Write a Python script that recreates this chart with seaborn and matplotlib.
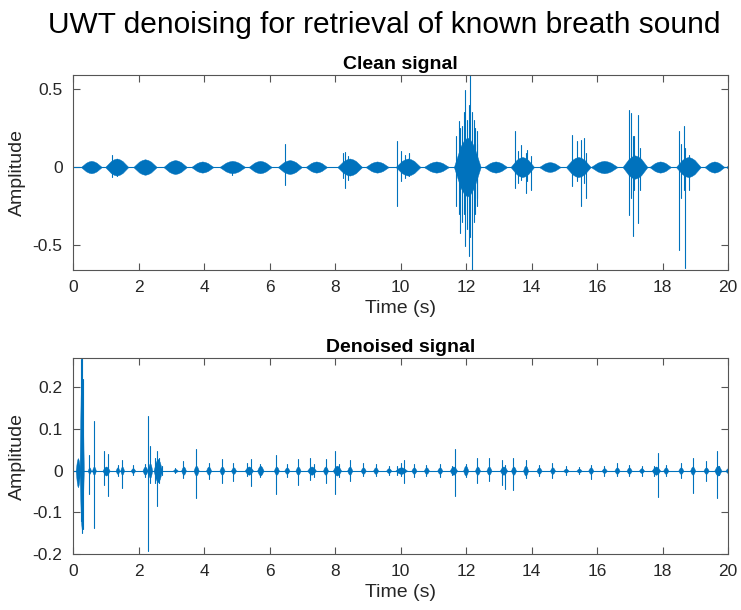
import numpy as np
import pandas as pd
import matplotlib
matplotlib.use("Agg")
import matplotlib.pyplot as plt
import seaborn as sns

# ---------------- data ----------------
# Clean signal: breath bursts (start s, end s, upper envelope, lower envelope)
clean_burst_start = [0.24, 0.98, 1.84, 2.76, 3.61, 4.47, 5.36, 6.25, 7.10, 8.07, 8.93, 9.85,
                     10.71, 11.63, 12.55, 13.36, 14.23, 15.05, 15.81, 16.78, 17.60, 18.41, 19.28, 19.95]
clean_burst_end = [0.88, 1.69, 2.56, 3.48, 4.29, 5.26, 6.07, 6.99, 7.76, 8.83, 9.64, 10.61,
                   11.48, 12.45, 13.26, 14.08, 14.89, 15.81, 16.63, 17.54, 18.26, 19.17, 19.89, 20.3]
clean_burst_hi = [0.04, 0.055, 0.05, 0.045, 0.036, 0.04, 0.04, 0.045, 0.036, 0.055, 0.036, 0.055,
                  0.036, 0.19, 0.036, 0.065, 0.032, 0.065, 0.04, 0.075, 0.036, 0.065, 0.036, 0.03]
clean_burst_lo = [0.04, 0.055, 0.05, 0.045, 0.036, 0.04, 0.04, 0.045, 0.036, 0.055, 0.036, 0.055,
                  0.036, 0.19, 0.036, 0.065, 0.032, 0.065, 0.04, 0.075, 0.036, 0.065, 0.036, 0.03]
# Clean signal: crackle spikes (time s, peak, trough magnitude)
clean_spike_t = [1.20, 1.35, 4.85, 6.46, 8.25, 8.30, 8.40, 9.90, 10.02, 10.15, 10.25,
                 11.70, 11.78, 11.83, 11.88, 11.93, 11.98, 12.03, 12.08, 12.13, 12.18, 12.23, 12.28,
                 12.33, 12.35, 13.50, 13.60, 13.67, 13.82, 13.87, 13.98,
                 15.25, 15.40, 15.50, 15.61, 15.66,
                 16.99, 17.04, 17.09, 17.14, 17.24, 17.30,
                 18.51, 18.58, 18.66, 18.69, 18.82]
clean_spike_hi = [0.08, 0.05, 0.02, 0.15, 0.09, 0.098, 0.07, 0.164, 0.10, 0.08, 0.09,
                  0.20, 0.293, 0.25, 0.26, 0.35, 0.496, 0.30, 0.40, 0.60, 0.35, 0.30, 0.25,
                  0.229, 0.15, 0.229, 0.10, 0.143, 0.09, 0.111, 0.07,
                  0.207, 0.165, 0.175, 0.186, 0.09,
                  0.368, 0.346, 0.20, 0.197, 0.336, 0.12,
                  0.229, 0.15, 0.261, 0.12, 0.08]
clean_spike_lo = [0.065, 0.06, 0.05, 0.113, 0.07, 0.135, 0.08, 0.25, 0.09, 0.07, 0.06,
                  0.25, 0.30, 0.423, 0.35, 0.30, 0.509, 0.40, 0.573, 0.45, 0.67, 0.35, 0.30,
                  0.20, 0.252, 0.135, 0.10, 0.08, 0.167, 0.09, 0.145,
                  0.124, 0.09, 0.252, 0.10, 0.199,
                  0.306, 0.20, 0.444, 0.15, 0.359, 0.15,
                  0.53, 0.20, 0.15, 0.648, 0.145]

# Denoised signal: small blobs (start, end, upper, lower)
den_burst_start = [0.08, 0.20, 0.45, 0.58, 0.90, 1.30, 1.44, 1.76, 2.12, 2.28, 2.46, 3.05, 3.30, 3.68,
                   4.06, 4.47, 4.82, 5.24, 5.62, 6.13, 6.45, 6.79, 7.15, 7.63, 7.93, 8.37, 8.78, 9.16,
                   9.56, 9.84, 10.33, 10.71, 11.12, 11.50, 11.91, 12.27, 12.62, 13.03, 13.37, 13.74,
                   14.15, 14.56, 14.97, 15.37, 15.73, 16.14, 16.53, 16.90, 17.28, 17.67, 18.02, 18.48,
                   18.84, 19.25, 19.58, 19.92]
den_burst_end = [0.22, 0.33, 0.55, 0.70, 1.12, 1.42, 1.56, 1.90, 2.28, 2.42, 2.72, 3.20, 3.45, 3.84,
                 4.22, 4.63, 4.98, 5.50, 5.82, 6.29, 6.61, 6.95, 7.42, 7.79, 8.19, 8.53, 8.94, 9.32,
                 9.72, 10.20, 10.49, 10.87, 11.28, 11.73, 12.07, 12.43, 12.78, 13.26, 13.53, 13.90,
                 14.31, 14.72, 15.13, 15.53, 15.89, 16.30, 16.69, 17.06, 17.44, 17.93, 18.18, 18.64,
                 19.00, 19.41, 19.80, 20.08]
den_burst_hi = [0.03, 0.25, 0.008, 0.01, 0.01, 0.008, 0.01, 0.006, 0.01, 0.018, 0.028, 0.004, 0.01, 0.012,
                0.01, 0.01, 0.008, 0.01, 0.012, 0.01, 0.008, 0.01, 0.01, 0.01, 0.012, 0.01, 0.008, 0.008,
                0.006, 0.008, 0.008, 0.008, 0.008, 0.01, 0.012, 0.01, 0.01, 0.01, 0.01, 0.012,
                0.008, 0.008, 0.005, 0.005, 0.008, 0.006, 0.008, 0.008, 0.006, 0.01, 0.008, 0.008,
                0.01, 0.008, 0.012, 0.006]
den_burst_lo = [0.04, 0.14, 0.008, 0.01, 0.012, 0.008, 0.01, 0.006, 0.01, 0.018, 0.028, 0.004, 0.01, 0.012,
                0.01, 0.01, 0.008, 0.01, 0.012, 0.01, 0.008, 0.01, 0.01, 0.01, 0.012, 0.01, 0.008, 0.008,
                0.006, 0.008, 0.008, 0.008, 0.008, 0.01, 0.012, 0.01, 0.01, 0.01, 0.01, 0.012,
                0.008, 0.008, 0.005, 0.005, 0.008, 0.006, 0.008, 0.008, 0.006, 0.01, 0.008, 0.008,
                0.01, 0.008, 0.012, 0.006]
# Denoised signal: spikes (time, peak, trough magnitude)
den_spike_t = [0.24, 0.27, 0.30, 0.50, 0.64, 0.96, 1.08, 1.36, 1.49, 1.82, 2.20, 2.30, 2.35, 2.50, 2.56,
               2.62, 2.71, 3.12, 3.37, 3.76, 4.14, 4.55, 4.90, 5.31, 5.43, 5.72, 6.21, 6.53, 6.87,
               7.23, 7.35, 7.71, 8.01, 8.11, 8.45, 8.86, 9.24, 9.64, 9.90, 10.00, 10.12, 10.41,
               10.79, 11.20, 11.56, 11.65, 11.99, 12.35, 12.70, 13.11, 13.18, 13.45, 13.82, 14.23,
               14.64, 15.05, 15.45, 15.81, 16.22, 16.61, 16.98, 17.36, 17.75, 17.85, 18.10, 18.56,
               18.92, 19.33, 19.66, 19.73, 20.0]
den_spike_hi = [0.267, 0.27, 0.22, 0.038, 0.12, 0.046, 0.039, 0.014, 0.026, 0.014, 0.015, 0.130, 0.058,
                0.03, 0.046, 0.03, 0.01, 0.006, 0.022, 0.051, 0.018, 0.028, 0.018, 0.018, 0.028, 0.016,
                0.038, 0.015, 0.028, 0.03, 0.015, 0.027, 0.046, 0.015, 0.026, 0.018, 0.016, 0.01, 0.01,
                0.018, 0.026, 0.015, 0.014, 0.015, 0.01, 0.052, 0.016, 0.03, 0.03, 0.026, 0.014, 0.03,
                0.026, 0.014, 0.018, 0.01, 0.008, 0.014, 0.012, 0.018, 0.014, 0.012, 0.012, 0.043,
                0.014, 0.018, 0.03, 0.022, 0.046, 0.01, 0.01]
den_spike_lo = [0.12, 0.15, 0.14, 0.056, 0.138, 0.034, 0.061, 0.014, 0.042, 0.01, 0.015, 0.194, 0.03,
                0.03, 0.085, 0.03, 0.01, 0.006, 0.018, 0.065, 0.02, 0.03, 0.026, 0.014, 0.038, 0.016,
                0.057, 0.015, 0.034, 0.022, 0.015, 0.03, 0.056, 0.015, 0.026, 0.014, 0.014, 0.01, 0.01,
                0.013, 0.03, 0.015, 0.014, 0.015, 0.01, 0.06, 0.016, 0.03, 0.026, 0.034, 0.045, 0.046,
                0.018, 0.014, 0.018, 0.01, 0.008, 0.021, 0.012, 0.013, 0.014, 0.012, 0.012, 0.064,
                0.014, 0.018, 0.053, 0.026, 0.066, 0.01, 0.01]

x_ticks = [0, 2, 4, 6, 8, 10, 12, 14, 16, 18, 20]
clean_y_ticks = [-0.5, 0, 0.5]
den_y_ticks = [-0.2, -0.1, 0, 0.1, 0.2]

# ---------------- style ----------------
sns.set_theme(style="white")
plt.rcParams["font.family"] = ["Liberation Sans", "DejaVu Sans"]
plt.rcParams["axes.unicode_minus"] = False

LINE = "#0072BD"
AX = "#262626"
PROFILE = [0.0, 0.35, 0.7, 0.9, 1.0, 0.9, 0.7, 0.35, 0.0]   # envelope drawing shape

fig = plt.figure(figsize=(7.41, 6.10), dpi=100)
ax1 = fig.add_axes([73 / 741, 1 - 270 / 610, 655 / 741, 195 / 610])
ax2 = fig.add_axes([73 / 741, 1 - 554 / 610, 655 / 741, 196 / 610])


def draw_signal(ax, bs, be, bh, bl, st, sh, sl):
    # baseline
    sns.lineplot(x=[0, 20], y=[0, 0], ax=ax, color=LINE, lw=0.8)
    # bursts
    for s, e, h, l in zip(bs, be, bh, bl):
        xs = np.linspace(s, e, len(PROFILE))
        prof = np.array(PROFILE)
        ax.fill_between(xs, -l * prof, h * prof, color=LINE, lw=0.3, edgecolor=LINE)
    # spikes
    rows = []
    for i, (t, h, l) in enumerate(zip(st, sh, sl)):
        rows.append({"t": t, "amp": h, "seg": i})
        rows.append({"t": t, "amp": -l, "seg": i})
    df = pd.DataFrame(rows)
    sns.lineplot(data=df, x="t", y="amp", units="seg", estimator=None, ax=ax,
                 color=LINE, lw=0.8, sort=False)


draw_signal(ax1, clean_burst_start, clean_burst_end, clean_burst_hi, clean_burst_lo,
            clean_spike_t, clean_spike_hi, clean_spike_lo)
draw_signal(ax2, den_burst_start, den_burst_end, den_burst_hi, den_burst_lo,
            den_spike_t, den_spike_hi, den_spike_lo)

ax1.set_ylim(-0.66, 0.59)
ax2.set_ylim(-0.2, 0.27)

for ax, yt, title in [(ax1, clean_y_ticks, "Clean signal"), (ax2, den_y_ticks, "Denoised signal")]:
    ax.set_xlim(0, 20)
    ax.set_xticks(x_ticks)
    ax.set_xticklabels([f"{v:g}" for v in x_ticks])
    ax.set_yticks(yt)
    ax.set_yticklabels([f"{v:g}" for v in yt])
    ax.tick_params(direction="in", length=5, width=0.8, color="#555555", labelcolor=AX,
                   labelsize=12.5, top=True, right=True, bottom=True, left=True, pad=7.5)
    for sp in ax.spines.values():
        sp.set_visible(True)
        sp.set_color("#555555")
        sp.set_linewidth(0.8)
    ax.set_xlabel("Time (s)", fontsize=14, color=AX, labelpad=3)
    ax.set_ylabel("Amplitude", fontsize=14, color=AX, labelpad=5)
    ax.set_title(title, fontsize=14, fontweight="bold", color="black", pad=4)
    ax.set_facecolor("white")

fig.text(384.5 / 741, 1 - 25 / 610, "UWT denoising for retrieval of known breath sound",
         fontsize=21.5, ha="center", va="center", color="black")

fig.savefig("out.png", dpi=100)
